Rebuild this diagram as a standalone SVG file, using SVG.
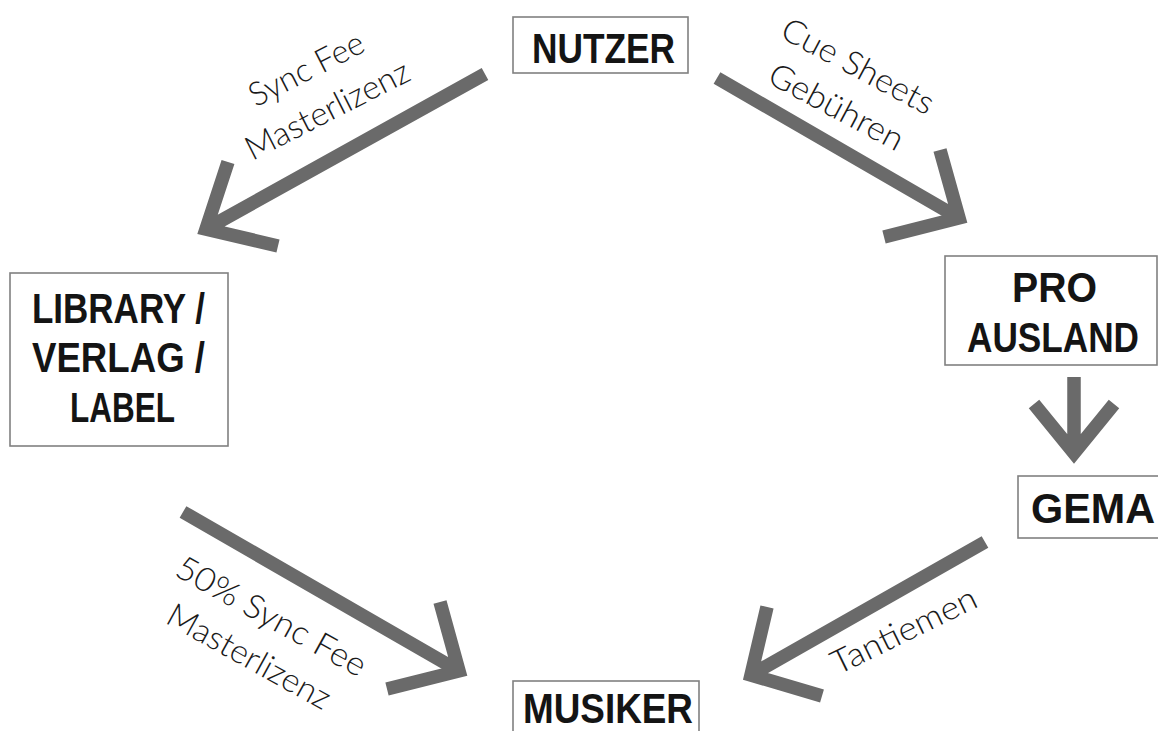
<svg xmlns="http://www.w3.org/2000/svg" width="1158" height="731" viewBox="0 0 1158 731">
<style>
.box{fill:#fff;stroke:#808080;stroke-width:1.6}
.nt{font-family:"Liberation Sans",Arial,sans-serif;font-weight:bold;font-size:42px;fill:#141414;text-anchor:middle}
.lb{font-family:Lato,"DejaVu Sans",sans-serif;font-weight:300;font-size:33px;fill:#1a1a1a;text-anchor:middle;dominant-baseline:central}
.arr{fill:none;stroke:#6a6a6a;stroke-width:13.5;stroke-linejoin:miter;stroke-miterlimit:10;stroke-linecap:butt}
</style>
<rect width="1158" height="731" fill="#fff"/>
<g id="connectors">
<path class="arr" d="M485,74 L206,229 M228,162 L206,229 L278,246"/>
<path class="arr" d="M717,78 L959,218 M940,150 L959,218 L884,237"/>
<path class="arr" stroke-width="12" d="M1074,377 L1074,453 M1034,404 L1074,453 L1114,404"/>
<path class="arr" d="M183,512 L459,671 M440,602 L459,671 L387,689"/>
<path class="arr" d="M985,542 L751,675 M767,607 L751,675 L822,696"/>
</g>
<g id="labels">
<g transform="translate(316,88) rotate(-27)">
<text class="lb" x="0" y="-23" textLength="125" lengthAdjust="spacingAndGlyphs">Sync Fee</text>
<text class="lb" x="0" y="23" textLength="180" lengthAdjust="spacingAndGlyphs">Masterlizenz</text>
</g>
<g transform="translate(848,85) rotate(28)">
<text class="lb" x="0" y="-23" textLength="168" lengthAdjust="spacingAndGlyphs">Cue Sheets</text>
<text class="lb" x="0" y="23" textLength="148" lengthAdjust="spacingAndGlyphs">Gebühren</text>
</g>
<g transform="translate(261,635) rotate(29)">
<text class="lb" x="0" y="-23" textLength="212" lengthAdjust="spacingAndGlyphs">50% Sync Fee</text>
<text class="lb" x="0" y="23" textLength="182" lengthAdjust="spacingAndGlyphs">Masterlizenz</text>
</g>
<g transform="translate(903,629) rotate(-26)">
<text class="lb" x="0" y="0" textLength="158" lengthAdjust="spacingAndGlyphs">Tantiemen</text>
</g>
</g>
<g id="nutzer">
<rect class="box" x="513" y="17" width="175" height="56"/>
<text class="nt" x="603.5" y="63" textLength="143" lengthAdjust="spacingAndGlyphs">NUTZER</text>
</g>
<g id="library">
<rect class="box" x="10" y="273" width="218" height="173"/>
<text class="nt" x="118.5" y="323" textLength="173" lengthAdjust="spacingAndGlyphs">LIBRARY /</text>
<text class="nt" x="118.5" y="372" textLength="173" lengthAdjust="spacingAndGlyphs">VERLAG /</text>
<text class="nt" x="122.5" y="422" textLength="105" lengthAdjust="spacingAndGlyphs">LABEL</text>
</g>
<g id="pro-ausland">
<rect class="box" x="945" y="256" width="212" height="109"/>
<text class="nt" x="1054.5" y="302" textLength="85" lengthAdjust="spacingAndGlyphs">PRO</text>
<text class="nt" x="1053" y="352" font-size="40" textLength="172" lengthAdjust="spacingAndGlyphs">AUSLAND</text>
</g>
<g id="gema">
<rect class="box" x="1018" y="476" width="145" height="62"/>
<text class="nt" x="1093" y="523" textLength="124" lengthAdjust="spacingAndGlyphs">GEMA</text>
</g>
<g id="musiker">
<rect class="box" x="513" y="681" width="186" height="60"/>
<text class="nt" x="608" y="723" textLength="170" lengthAdjust="spacingAndGlyphs">MUSIKER</text>
</g>
</svg>
